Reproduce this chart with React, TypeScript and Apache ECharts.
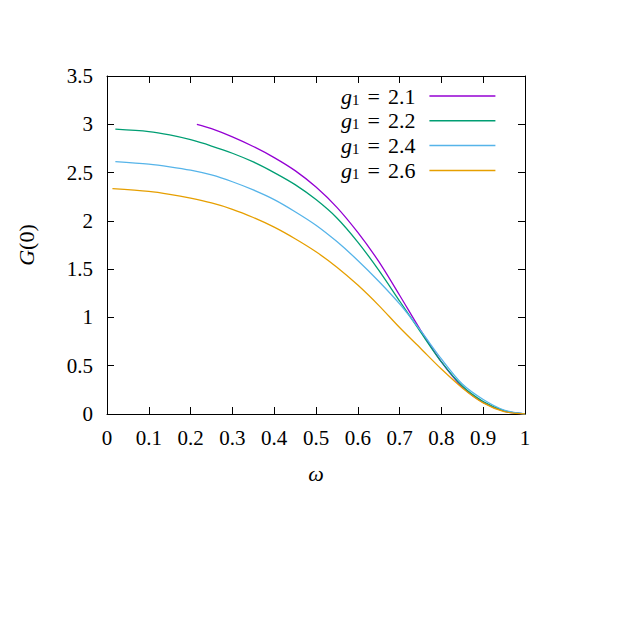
import React, { useEffect, useRef } from 'react';
import * as echarts from 'echarts';

const FONT = 'Liberation Serif';

const g1Labels = ['2.1', '2.2', '2.4', '2.6'];
const colors = ['#9400d3', '#009e73', '#56b4e9', '#e69f00'];

const omega21 = [0.215, 0.25, 0.3, 0.35, 0.4, 0.45, 0.5, 0.55, 0.6, 0.65, 0.7, 0.75, 0.8, 0.85, 0.9, 0.95, 1.0];
const G21 = [3.0, 2.955, 2.87, 2.77, 2.655, 2.52, 2.35, 2.14, 1.88, 1.58, 1.23, 0.87, 0.54, 0.28, 0.12, 0.03, 0.0];

const omega22 = [0.02, 0.1, 0.15, 0.2, 0.25, 0.3, 0.35, 0.4, 0.45, 0.5, 0.55, 0.6, 0.65, 0.7, 0.75, 0.8, 0.85, 0.9, 0.95, 1.0];
const G22 = [2.95, 2.925, 2.89, 2.84, 2.775, 2.7, 2.61, 2.5, 2.375, 2.22, 2.03, 1.78, 1.49, 1.17, 0.85, 0.54, 0.29, 0.13, 0.035, 0.0];

const omega24 = [0.02, 0.1, 0.15, 0.2, 0.25, 0.3, 0.35, 0.4, 0.45, 0.5, 0.55, 0.6, 0.65, 0.7, 0.75, 0.8, 0.85, 0.9, 0.95, 1.0];
const G24 = [2.613, 2.587, 2.56, 2.525, 2.475, 2.405, 2.32, 2.22, 2.095, 1.955, 1.785, 1.59, 1.375, 1.14, 0.865, 0.57, 0.31, 0.15, 0.04, 0.0];

const omega26 = [0.013, 0.1, 0.15, 0.2, 0.25, 0.3, 0.35, 0.4, 0.45, 0.5, 0.55, 0.6, 0.65, 0.7, 0.75, 0.8, 0.85, 0.9, 0.95, 1.0];
const G26 = [2.333, 2.305, 2.275, 2.235, 2.185, 2.12, 2.035, 1.935, 1.815, 1.68, 1.52, 1.335, 1.125, 0.895, 0.68, 0.465, 0.27, 0.115, 0.025, 0.0];

const omegas = [omega21, omega22, omega24, omega26];
const Gs = [G21, G22, G24, G26];

export default function App() {
  const ref = useRef<HTMLDivElement>(null);
  useEffect(() => {
    if (!ref.current) return;
    const chart = echarts.init(ref.current, undefined, { renderer: 'svg' });
    const names = g1Labels.map((v) => 'g1 = ' + v);
    const axisLine = { show: true, onZero: false, lineStyle: { color: '#000', width: 1 } };
    const tick = { show: true, inside: true, length: 7, lineStyle: { color: '#000', width: 1 } };
    const labelStyle = { fontFamily: FONT, fontSize: 21, color: '#000' };
    chart.setOption({
      animation: false,
      backgroundColor: '#fff',
      grid: { left: 107, right: 105, top: 76, bottom: 216, containLabel: false },
      legend: {
        orient: 'vertical',
        left: 336,
        top: 80,
        align: 'right',
        icon: 'rect',
        itemWidth: 66,
        itemHeight: 1.5,
        itemGap: 2.8,
        data: names,
        formatter: (name: string) => {
          const i = names.indexOf(name);
          return '{i|g}{s|1}{e|=}{t|' + g1Labels[i] + '}';
        },
        textStyle: {
          fontFamily: FONT,
          fontSize: 22,
          color: '#000',
          padding: [0, 9, 0, 0],
          rich: {
            i: { fontFamily: FONT, fontSize: 22, fontStyle: 'italic', lineHeight: 22, color: '#000' },
            s: { fontFamily: FONT, fontSize: 15, lineHeight: 8, verticalAlign: 'bottom', color: '#000' },
            e: { fontFamily: FONT, fontSize: 22, lineHeight: 22, color: '#000', padding: [0, 8, 0, 8] },
            t: { fontFamily: FONT, fontSize: 22, lineHeight: 22, color: '#000' },
          },
        },
      },
      xAxis: [
        {
          type: 'value', min: 0, max: 1, interval: 0.1, position: 'bottom',
          axisLine, axisTick: tick, splitLine: { show: false },
          axisLabel: { ...labelStyle, margin: 13 },
          name: 'ω', nameLocation: 'middle', nameGap: 48,
          nameTextStyle: { fontFamily: FONT, fontSize: 22, fontStyle: 'italic', color: '#000' },
        },
        {
          type: 'value', min: 0, max: 1, interval: 0.1, position: 'top',
          axisLine, axisTick: tick, splitLine: { show: false }, axisLabel: { show: false },
        },
      ],
      yAxis: [
        {
          type: 'value', min: 0, max: 3.5, interval: 0.5, position: 'left',
          axisLine, axisTick: tick, splitLine: { show: false },
          axisLabel: { ...labelStyle, margin: 14 },
          name: '{i|G}{n|(0)}', nameLocation: 'middle', nameGap: 70, nameRotate: 90,
          nameTextStyle: {
            fontFamily: FONT, fontSize: 22, color: '#000',
            rich: {
              i: { fontFamily: FONT, fontSize: 22, fontStyle: 'italic', color: '#000' },
              n: { fontFamily: FONT, fontSize: 22, color: '#000' },
            },
          },
        },
        {
          type: 'value', min: 0, max: 3.5, interval: 0.5, position: 'right',
          axisLine, axisTick: tick, splitLine: { show: false }, axisLabel: { show: false },
        },
      ],
      series: names.map((name, k) => ({
        name,
        type: 'line',
        xAxisIndex: 0,
        yAxisIndex: 0,
        symbol: 'none',
        smooth: 0.3,
        color: colors[k],
        lineStyle: { color: colors[k], width: 1.3 },
        data: omegas[k].map((x, j) => [x, Gs[k][j]]),
      })),
    });
    return () => chart.dispose();
  }, []);
  return <div ref={ref} style={{ position: 'fixed', left: 0, top: 0, width: 630, height: 630 }} />;
}
